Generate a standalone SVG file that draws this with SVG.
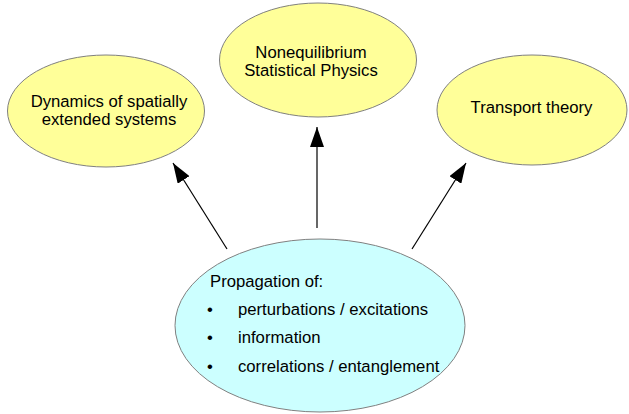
<svg xmlns="http://www.w3.org/2000/svg" width="629" height="414" viewBox="0 0 629 414">
<style>
.y{fill:#ffff99;stroke:#808080;stroke-width:1}
.c{fill:#ccffff;stroke:#808080;stroke-width:1}
text{font-family:"Liberation Sans",Arial,sans-serif;font-size:16.7px;fill:#000}
.m{text-anchor:middle}
.e{stroke:#000;stroke-width:1.2;fill:none;marker-end:url(#ah)}
</style>
<defs>
<marker id="ah" viewBox="0 0 20 14" refX="20" refY="7" markerWidth="20" markerHeight="14" markerUnits="userSpaceOnUse" orient="auto">
<path d="M0,0 L20,7 L0,14 Z" fill="#000"/>
</marker>
</defs>
<g id="connectors">
<line class="e" x1="227" y1="249" x2="173" y2="163"/>
<line class="e" x1="317" y1="228" x2="317" y2="127"/>
<line class="e" x1="412" y1="249" x2="466" y2="163"/>
</g>
<g id="n1">
<ellipse class="y" cx="106" cy="111" rx="98.5" ry="56"/>
<text class="m" x="109" y="107">Dynamics of spatially</text>
<text class="m" x="109" y="125">extended systems</text>
</g>
<g id="n2">
<ellipse class="y" cx="318" cy="60" rx="98.5" ry="57"/>
<text class="m" x="311" y="58">Nonequilibrium</text>
<text class="m" x="311" y="76">Statistical Physics</text>
</g>
<g id="n3">
<ellipse class="y" cx="532" cy="110" rx="95" ry="55"/>
<text class="m" x="531.5" y="113">Transport theory</text>
</g>
<g id="n4">
<ellipse class="c" cx="320" cy="325.5" rx="145" ry="86.5"/>
<text x="210" y="287">Propagation of:</text>
<text x="207" y="315">•</text>
<text x="238" y="315">perturbations / excitations</text>
<text x="207" y="343">•</text>
<text x="238" y="343">information</text>
<text x="207" y="372">•</text>
<text x="238" y="372">correlations / entanglement</text>
</g>
</svg>
